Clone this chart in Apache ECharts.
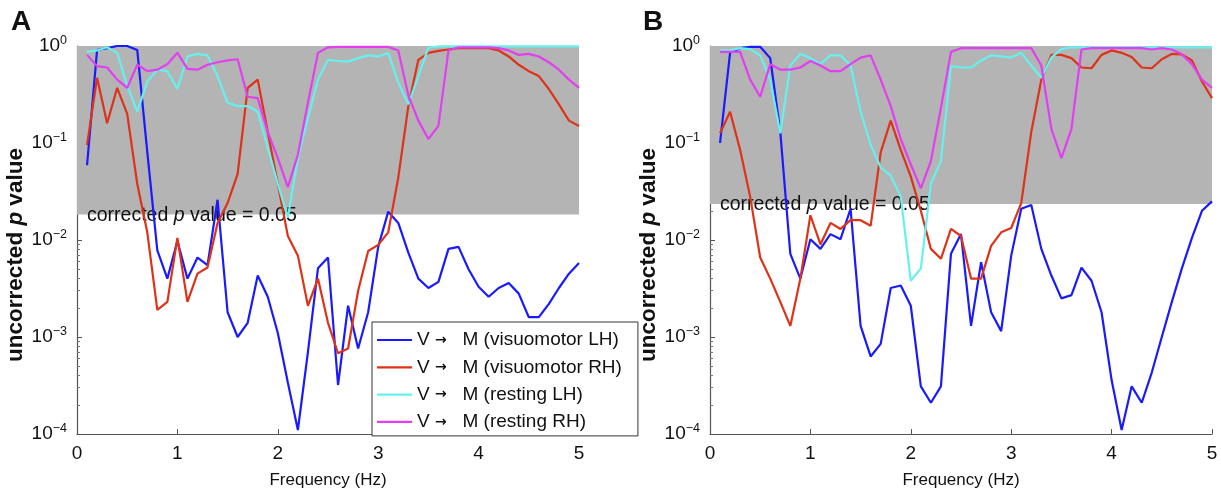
<!DOCTYPE html>
<html><head><meta charset="utf-8">
<script src="https://cdn.jsdelivr.net/npm/echarts@6/dist/echarts.min.js"></script>
<style>html,body{margin:0;padding:0;background:#fff;overflow:hidden}#c{width:1221px;height:494px}</style>
</head><body><div id="c"></div>
<script>
const freqs = [0.1,0.2,0.3,0.4,0.5,0.6,0.7,0.8,0.9,1.0,1.1,1.2,1.3,1.4,1.5,1.6,1.7,1.8,1.9,2.0,2.1,2.2,2.3,2.4,2.5,2.6,2.7,2.8,2.9,3.0,3.1,3.2,3.3,3.4,3.5,3.6,3.7,3.8,3.9,4.0,4.1,4.2,4.3,4.4,4.5,4.6,4.7,4.8,4.9,5.0];
const seriesNames = ['V \u2192 M (visuomotor LH)','V \u2192 M (visuomotor RH)','V \u2192 M (resting LH)','V \u2192 M (resting RH)'];
const colors = ['#1a1aff','#dd3318','#66f0ee','#e13ff0'];
const xTicks = [0,1,2,3,4,5];
const yTicks = [1e-4,1e-3,1e-2,1e-1,1];
const thresholdA = 0.0183;
const thresholdB = 0.0235;

// Panel A
const A_visLH = [0.059,0.91,0.95,1.0,1.0,0.91,0.081,0.0078,0.0040,0.0098,0.0040,0.0066,0.0055,0.026,0.0018,0.0010,0.0014,0.0043,0.0026,0.0011,0.00034,0.00011,0.0007,0.0051,0.0066,0.00032,0.0021,0.00076,0.0018,0.0085,0.0196,0.015,0.0074,0.0040,0.0032,0.0037,0.0081,0.0085,0.0050,0.0033,0.0026,0.0032,0.0036,0.0028,0.0016,0.0016,0.0022,0.0032,0.0045,0.0058];
const A_visRH = [0.095,0.47,0.16,0.37,0.20,0.038,0.012,0.0019,0.0023,0.0105,0.0023,0.0045,0.0052,0.015,0.024,0.048,0.37,0.45,0.13,0.038,0.011,0.0069,0.0021,0.0040,0.0014,0.00068,0.00076,0.0030,0.0077,0.0089,0.012,0.044,0.24,0.72,0.85,0.89,0.92,0.95,0.95,0.95,0.95,0.90,0.78,0.64,0.55,0.49,0.36,0.25,0.17,0.15];
const A_restLH = [0.87,0.90,0.97,0.85,0.39,0.21,0.43,0.57,0.55,0.36,0.78,0.83,0.80,0.49,0.26,0.24,0.24,0.21,0.089,0.038,0.017,0.07,0.18,0.45,0.72,0.70,0.69,0.75,0.80,0.78,0.85,0.42,0.25,0.49,0.96,0.99,0.99,0.99,0.99,0.99,0.99,0.99,0.99,0.99,0.99,0.99,0.99,0.99,0.99,0.99];
const A_restRH = [0.81,0.62,0.60,0.45,0.37,0.64,0.55,0.57,0.65,0.85,0.58,0.57,0.64,0.68,0.71,0.73,0.30,0.29,0.13,0.07,0.035,0.076,0.26,0.85,0.97,0.98,0.98,0.98,0.98,0.98,0.98,0.90,0.31,0.17,0.11,0.15,0.90,0.97,0.97,0.97,0.97,0.95,0.90,0.81,0.83,0.78,0.68,0.57,0.45,0.37];

// Panel B
const B_visLH = [0.10,0.85,0.95,0.98,0.98,0.75,0.13,0.0072,0.0040,0.0102,0.0081,0.0115,0.0102,0.021,0.0013,0.00063,0.00085,0.0032,0.0034,0.0021,0.00031,0.00021,0.00031,0.0072,0.0115,0.0013,0.0059,0.0018,0.00115,0.0069,0.021,0.023,0.0081,0.0043,0.0025,0.0027,0.0052,0.0038,0.0018,0.00036,0.00011,0.00031,0.00021,0.00043,0.0010,0.0023,0.0051,0.0105,0.020,0.025];
const B_visRH = [0.126,0.21,0.085,0.028,0.0066,0.0040,0.0023,0.0013,0.0040,0.018,0.009,0.015,0.013,0.016,0.016,0.014,0.08,0.17,0.085,0.045,0.020,0.0081,0.0064,0.013,0.011,0.0040,0.0040,0.0087,0.012,0.0133,0.024,0.13,0.45,0.81,0.81,0.75,0.60,0.59,0.81,0.90,0.85,0.77,0.60,0.59,0.73,0.83,0.82,0.71,0.43,0.29];
const B_restLH = [0.90,0.90,0.95,0.93,0.80,0.45,0.126,0.63,0.83,0.75,0.65,0.80,0.80,0.63,0.21,0.096,0.056,0.046,0.028,0.0038,0.0051,0.038,0.065,0.62,0.60,0.60,0.71,0.80,0.78,0.76,0.85,0.63,0.47,0.76,0.93,0.97,0.97,0.97,0.97,0.97,0.97,0.97,0.97,0.97,0.97,0.97,0.97,0.97,0.97,0.97];
const B_restRH = [0.87,0.87,0.87,0.45,0.30,0.65,0.57,0.57,0.60,0.70,0.63,0.55,0.55,0.65,0.76,0.80,0.45,0.24,0.11,0.06,0.034,0.065,0.23,0.87,0.95,0.95,0.95,0.95,0.95,0.95,0.95,0.95,0.63,0.14,0.07,0.14,0.92,0.95,0.95,0.95,0.95,0.95,0.95,0.92,0.95,0.92,0.82,0.65,0.45,0.37];

const panelData = [[A_visLH,A_visRH,A_restLH,A_restRH],[B_visLH,B_visRH,B_restLH,B_restRH]];
const thresholds = [thresholdA, thresholdB];

const FONT = '"Liberation Sans", Arial, Helvetica, sans-serif';
const chart = echarts.init(document.getElementById('c'), null, {renderer:'canvas'});

const grids = [
  {left:77, right:642, top:46, bottom:52},
  {left:710, right:9, top:46, bottom:52}
];

const xAxes = grids.map((g,i)=>({
  type:'value', gridIndex:i, min:0, max:5, interval:1,
  name:'Frequency (Hz)', nameLocation:'middle', nameGap:38,
  nameTextStyle:{fontFamily:FONT, fontSize:17, color:'#111'},
  axisLine:{lineStyle:{color:'#555', width:1.2}},
  axisTick:{inside:true, length:5, lineStyle:{color:'#555'}},
  axisLabel:{fontFamily:FONT, fontSize:19, color:'#111', margin:10, formatter:(v)=> xTicks.includes(v)? String(v):''},
  splitLine:{show:false}
}));

const yAxes = grids.map((g,i)=>({
  type:'log', logBase:10, gridIndex:i, min:yTicks[0], max:yTicks[yTicks.length-1],
  name:'{b|uncorrected }{i|p}{b| value}', nameLocation:'middle', nameGap:49, nameRotate:90,
  nameTextStyle:{padding:[0,30,0,0], rich:{
    b:{fontFamily:FONT, fontSize:22.5, fontWeight:'bold', color:'#111'},
    i:{fontFamily:FONT, fontSize:22.5, fontWeight:'bold', fontStyle:'italic', color:'#111'}
  }},
  axisLine:{show:true, lineStyle:{color:'#555', width:1.2}},
  axisTick:{inside:true, length:5, lineStyle:{color:'#555'}},
  minorTick:{show:true, splitNumber:9, length:3, lineStyle:{color:'#777'}},
  axisLabel:{margin:10, formatter:(v)=>{const e=Math.round(Math.log10(v)); return '{b|10}{s|'+(e===0?'0':'\u2212'+(-e))+'}';},
    rich:{
      b:{fontFamily:FONT, fontSize:19, color:'#111'},
      s:{fontFamily:FONT, fontSize:12.5, color:'#111', verticalAlign:'bottom', padding:[0,0,10,0]}
    }},
  splitLine:{show:false}
}));

const series = [];
panelData.forEach((pd, p)=>{
  pd.forEach((vals, k)=>{
    const s = {
      type:'line', name:seriesNames[k], xAxisIndex:p, yAxisIndex:p,
      data: vals.map((v,j)=>[freqs[j], v]),
      symbol:'none', showSymbol:false, animation:false,
      lineStyle:{color:colors[k], width:2.2}, itemStyle:{color:colors[k]},
      z: 3 + k
    };
    if (k===0){
      s.markArea = {
        silent:true, itemStyle:{color:'#b4b4b4', opacity:1},
        label:{show:true, position:'insideBottomLeft', distance:0, offset:[10,11],
          formatter:'{n|corrected }{i|p}{n| value = 0.05}',
          rich:{
            n:{fontFamily:FONT, fontSize:19.5, color:'#111'},
            i:{fontFamily:FONT, fontSize:19.5, fontStyle:'italic', color:'#111'}
          }},
        data:[[{yAxis:thresholds[p], xAxis:0},{yAxis:1, xAxis:5}]]
      };
    }
    series.push(s);
  });
});

chart.setOption({
  animation:false,
  backgroundColor:'#fff',
  grid:grids,
  xAxis:xAxes,
  yAxis:yAxes,
  legend:{
    data:seriesNames, orient:'vertical', left:372, top:322,
    icon:'rect', itemWidth:35, itemHeight:2.2, itemGap:7.3,
    backgroundColor:'#fff', borderColor:'#333', borderWidth:1, borderRadius:0,
    padding:[8,16,4,5],
    formatter:(n)=> n.replace('V \u2192 M', 'V {a|\u2192}   M'),
    textStyle:{fontFamily:FONT, fontSize:19, lineHeight:20, color:'#111',
      rich:{a:{fontFamily:'"DejaVu Sans", sans-serif', fontSize:14, fontWeight:'bold', color:'#111', lineHeight:20}}}
  },
  graphic:[
    {type:'text', left:11, top:8, style:{text:'A', font:'bold 28px '+FONT, fill:'#111'}},
    {type:'text', left:643, top:8, style:{text:'B', font:'bold 28px '+FONT, fill:'#111'}}
  ],
  series:series
});
</script></body></html>
